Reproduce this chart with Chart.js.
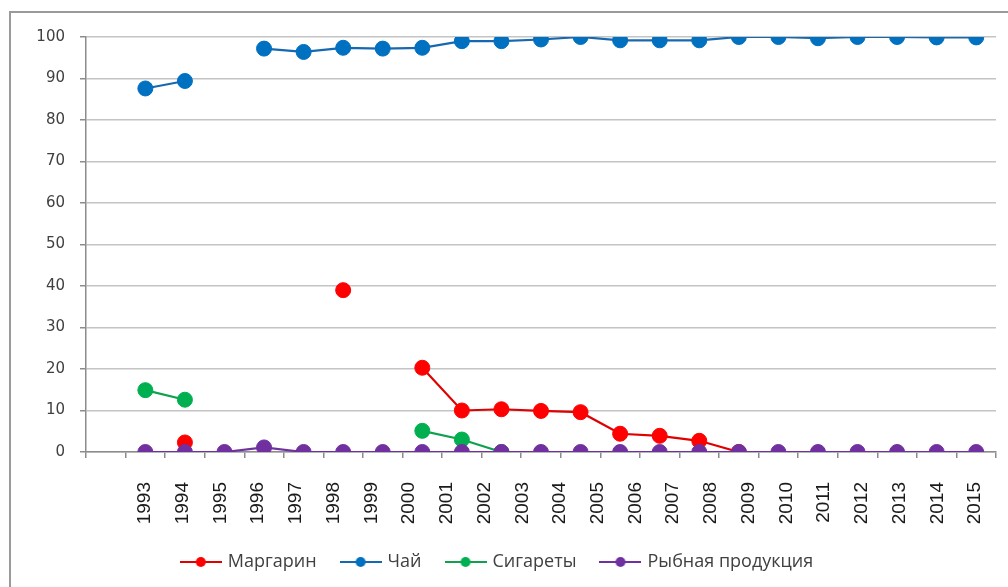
<!DOCTYPE html>
<html><head><meta charset="utf-8">
<script src="https://cdn.jsdelivr.net/npm/chart.js@4.4.0/dist/chart.umd.min.js"></script>
<style>
html,body{margin:0;padding:0;background:#fff;overflow:hidden;}
#wrap{position:relative;width:1008px;height:587px;}
#frame{position:absolute;left:9px;top:11px;right:-10px;bottom:-10px;border-left:2px solid #9a9a9a;border-top:2px solid #9a9a9a;}
canvas{position:absolute;left:0;top:0;}
</style></head><body>
<div id="wrap"><div id="frame"></div><canvas id="c" width="1008" height="587"></canvas></div>
<script>
// Year tick labels (23 labels under 22 plotted positions, as in the source picture)
const years = ['1993','1994','1995','1996','1997','1998','1999','2000','2001','2002','2003','2004','2005','2006','2007','2008','2009','2010','2011','2012','2013','2014','2015'];
const seriesNames = ['Маргарин','Чай','Сигареты','Рыбная продукция'];
// values at the 22 plotted positions, left to right
const margarine  = [null, 2.3, null, null, null, 39.0, null, 20.3, 10.0, 10.3, 9.9, 9.6, 4.4, 3.9, 2.7, 0, null, null, null, null, null, null];
const tea        = [87.6, 89.4, null, 97.2, 96.4, 97.4, 97.2, 97.4, 99.0, 99.0, 99.4, 100, 99.2, 99.2, 99.2, 100, 100, 99.7, 100, 100, 99.9, 99.9];
const cigarettes = [14.9, 12.6, null, null, null, null, null, 5.1, 3.0, 0, null, null, null, null, null, null, null, null, null, null, null, null];
const fish       = [0, 0, 0, 1.1, 0, 0, 0, 0, 0, 0, 0, 0, 0, 0, 0, 0, 0, 0, 0, 0, 0, 0];
const yTicks = [0,10,20,30,40,50,60,70,80,90,100];

const colors = ['#FF0000','#0070C0','#00B050','#7030A0'];
const lineColors = ['#E00000','#1668B0','#10A050','#7030A0'];
const allSeries = [margarine, tea, cigarettes, fish];
const drawOrder = [2, 3, 1, 0];

function toPoints(arr){ return arr.map((v,i)=>({x:i, y:v})); }

function legendIcon(color, lineColor){
  const cv = document.createElement('canvas');
  cv.width = 42; cv.height = 14;
  const g = cv.getContext('2d');
  g.strokeStyle = lineColor; g.lineWidth = 2;
  g.beginPath(); g.moveTo(0,7); g.lineTo(42,7); g.stroke();
  g.fillStyle = color; g.beginPath(); g.arc(21,7,5,0,Math.PI*2); g.fill();
  return cv;
}
const icons = colors.map((c,i)=>legendIcon(c, lineColors[i]));

const datasets = allSeries.map((s,i)=>({
  label: seriesNames[i],
  data: toPoints(s),
  borderColor: lineColors[i],
  backgroundColor: colors[i],
  pointBackgroundColor: colors[i],
  pointBorderColor: colors[i],
  pointBorderWidth: 1,
  pointRadius: 7.5,
  borderWidth: 2.2,
  spanGaps: false,
  order: drawOrder[i],
  xAxisID: 'x',
  yAxisID: 'y'
}));

const nPos = tea.length;

new Chart(document.getElementById('c'), {
  type: 'line',
  data: { datasets },
  options: {
    responsive: false,
    animation: false,
    events: [],
    layout: { padding: { left: 0, right: 12, top: 37, bottom: 6 } },
    plugins: {
      tooltip: { enabled: false },
      legend: {
        position: 'bottom',
        labels: {
          usePointStyle: true,
          pointStyleWidth: 36,
          padding: 26,
          color: '#404040',
          font: { family: '"Open Sans", "Noto Sans", sans-serif', size: 18 },
          generateLabels: (chart) => chart.data.datasets.map((d,i)=>({
            text: d.label, pointStyle: icons[i], fillStyle: colors[i], strokeStyle: colors[i],
            lineWidth: 0, hidden: false, datasetIndex: i, fontColor: '#404040'
          }))
        }
      }
    },
    scales: {
      x: {
        type: 'linear', position: 'bottom', weight: 0,
        min: -1.5, max: nPos - 0.5,
        afterBuildTicks: (ax) => { const t=[]; for(let k=-1;k<=nPos;k++) t.push({value:k-0.5}); ax.ticks=t; },
        afterFit: (ax) => { ax.height = 6; ax.paddingLeft = 0; ax.paddingRight = 0; },
        ticks: { display: false },
        grid: { drawOnChartArea: false, drawTicks: true, tickLength: 6, color: '#8c8c8c', lineWidth: 1.5 },
        border: { display: true, color: '#8c8c8c', width: 1.5 }
      },
      years: {
        type: 'linear', position: 'bottom', weight: 1,
        min: 1991.436, max: 2015.556,
        afterBuildTicks: (ax) => { ax.ticks = years.map(v=>({value:Number(v)})); },
        afterFit: (ax) => { ax.height = 69; ax.paddingLeft = 0; ax.paddingRight = 0; },
        ticks: {
          autoSkip: false, minRotation: 90, maxRotation: 90, padding: 16,
          color: '#1a1a1a',
          font: { family: '"Liberation Sans", Arial, sans-serif', size: 19 },
          callback: (v, i) => years[i]
        },
        grid: { display: false },
        border: { display: false }
      },
      y: {
        min: 0, max: 100,
        afterBuildTicks: (ax) => { ax.ticks = yTicks.map(v=>({value:v})); },
        afterFit: (ax) => { ax.width = 86; },
        ticks: { color: '#404040', padding: 15, font: { family: '"DejaVu Sans", sans-serif', size: 15 } },
        grid: { color: '#c4c4c4', lineWidth: 1.5, tickLength: 6, tickColor: '#8c8c8c' },
        border: { display: true, color: '#8c8c8c', width: 1.5 }
      }
    }
  }
});
</script>
</body></html>
